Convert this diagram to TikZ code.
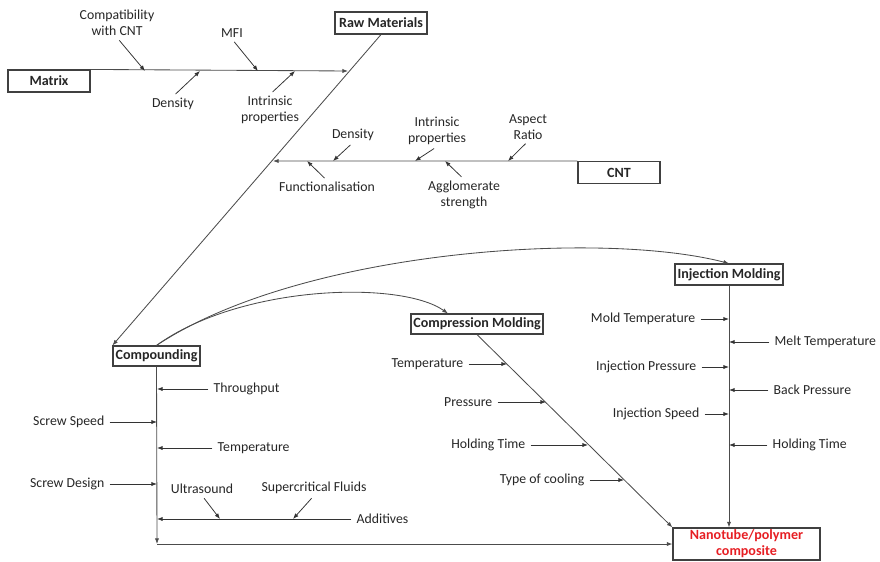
\documentclass[tikz,border=0pt]{standalone}
\usepackage{fontspec}
\setmainfont{Carlito}
\usetikzlibrary{arrows.meta,calc}
\definecolor{NanoRed}{RGB}{230,30,35}
\tikzset{%
	% Style of the main boxes
	Box/.style={draw=black!75,line width=0.8pt,inner sep=0,font=\fontsize{10}{12}\selectfont\bfseries,text=black!85},
	% Style of the cause labels
	Label/.style={font=\fontsize{9.8}{11.5}\selectfont,align=center,inner sep=1pt,text=black!85},
	% Style of the main lines
	Spine/.style={line width=0.6pt,draw=black!70,-{Latex[length=4pt,width=3pt]}},
	% Style of the small cause arrows
	Bone/.style={line width=0.55pt,draw=black!80,shorten <=2.5pt,-{Latex[length=4pt,width=3pt]}},
}

\begin{document}
\begin{tikzpicture}[x=0.025cm,y=-0.025cm] % STYLES
\useasboundingbox (0,0) rectangle (880,561);

%~~~~~~~~~~~~~~~~~~~~~~~~~~~~~~~~~~~~~~~~~~~~~~~~~~
% Set Boxes
%~~~~~~~~~~~~~~~~~~~~~~~~~~~~~~~~~~~~~~~~~~~~~~~~~~
\node[Box,minimum width=2.05cm,minimum height=0.55cm] (Matrix) at (49, 81) {Matrix};
\node[Box,minimum width=2.3cm,minimum height=0.55cm] (Raw) at (381, 23) {Raw Materials};
\node[Box,minimum width=2.05cm,minimum height=0.55cm] (CNT) at (619, 172.5) {CNT};
\node[Box,minimum width=2.175cm,minimum height=0.5cm] (Comp) at (156.5, 356) {Compounding};
\node[Box,minimum width=3.3cm,minimum height=0.5cm] (CompM) at (477, 324) {Compression Molding};
\node[Box,minimum width=2.7cm,minimum height=0.525cm] (InjM) at (729, 274.5) {Injection Molding};
\node[Box,minimum width=3.675cm,minimum height=0.8cm,align=center,text=NanoRed,font=\fontsize{10}{11.5}\selectfont\bfseries] (Nano) at (746.5, 544) {Nanotube/polymer\\composite};

%~~~~~~~~~~~~~~~~~~~~~~~~~~~~~~~~~~~~~~~~~~~~~~~~~~
% Set Main Lines
%~~~~~~~~~~~~~~~~~~~~~~~~~~~~~~~~~~~~~~~~~~~~~~~~~~
\coordinate (JM) at (348, 71);
\coordinate (JC) at (273, 161);
\coordinate (Corner) at (157, 544);

\draw[Spine] (Matrix.north east) -- (JM);
\draw[Spine] (Raw.south) -- (Comp.north west);
\draw[Spine] (CNT.north west) -- (JC);
\draw[Spine] (Comp.south) -- (Corner);
\draw[Spine] (Corner) -- (Nano.west);
\draw[Spine] (CompM.south) -- (Nano.north west);
\draw[Spine] (InjM.south) -- (InjM.south |- Nano.north);
\draw[Spine] (Comp.north) .. controls (240, 285) and (400, 280) .. (CompM.160);
\draw[Spine] (Comp.north) .. controls (300, 250) and (600, 230) .. (InjM.north);

%~~~~~~~~~~~~~~~~~~~~~~~~~~~~~~~~~~~~~~~~~~~~~~~~~~
% Matrix causes
%~~~~~~~~~~~~~~~~~~~~~~~~~~~~~~~~~~~~~~~~~~~~~~~~~~
\node[Label] (MCompat) at (117, 23) {Compatibility\\with CNT};
\node[Label] (MMFI) at (232, 33) {MFI};
\node[Label] (MDens) at (173, 104) {Density};
\node[Label] (MIntr) at (270, 110) {Intrinsic\\properties};
\draw[Bone] (MCompat.south) -- (145, 71);
\draw[Bone] (MMFI.south) -- (258, 71);
\draw[Bone] (MDens.north) -- (200, 71);
\draw[Bone] (MIntr.north) -- (295, 71);

%~~~~~~~~~~~~~~~~~~~~~~~~~~~~~~~~~~~~~~~~~~~~~~~~~~
% CNT causes
%~~~~~~~~~~~~~~~~~~~~~~~~~~~~~~~~~~~~~~~~~~~~~~~~~~
\node[Label] (CDens) at (353, 135) {Density};
\node[Label] (CIntr) at (437, 131) {Intrinsic\\properties};
\node[Label] (CAsp) at (528, 127) {Aspect\\Ratio};
\node[Label] (CFunc) at (327, 187) {Functionalisation};
\node[Label] (CAggl) at (464, 195) {Agglomerate\\strength};
\draw[Bone] (CDens.south) -- (333, 161);
\draw[Bone] (CIntr.south) -- (415, 161);
\draw[Bone] (CAsp.south) -- (508, 161);
\draw[Bone] (CFunc.north) -- (307, 161);
\draw[Bone] (CAggl.north) -- (445, 161);

%~~~~~~~~~~~~~~~~~~~~~~~~~~~~~~~~~~~~~~~~~~~~~~~~~~
% Compounding causes
%~~~~~~~~~~~~~~~~~~~~~~~~~~~~~~~~~~~~~~~~~~~~~~~~~~
\node[Label,anchor=west] (KThrough) at (212, 389) {Throughput};
\node[Label,anchor=east] (KSpeed) at (106, 422) {Screw Speed};
\node[Label,anchor=west] (KTemp) at (216, 448) {Temperature};
\node[Label,anchor=east] (KDesign) at (106, 484) {Screw Design};
\node[Label,anchor=west] (KAdd) at (355, 519) {Additives};
\node[Label] (KUltra) at (202, 489) {Ultrasound};
\node[Label] (KSuper) at (314, 488) {Supercritical Fluids};
\draw[Bone] (KThrough) -- (157, 389);
\draw[Bone] (KSpeed) -- (157, 422);
\draw[Bone] (KTemp) -- (157, 448);
\draw[Bone] (KDesign) -- (157, 484);
\draw[Bone] (KAdd) -- (157, 519);
\draw[Bone] (KUltra.south) -- (220, 519);
\draw[Bone] (KSuper.south) -- (293, 519);

%~~~~~~~~~~~~~~~~~~~~~~~~~~~~~~~~~~~~~~~~~~~~~~~~~~
% Compression Molding causes
%~~~~~~~~~~~~~~~~~~~~~~~~~~~~~~~~~~~~~~~~~~~~~~~~~~
\node[Label,anchor=east] (PTemp) at (465, 364) {Temperature};
\node[Label,anchor=east] (PPress) at (494, 402) {Pressure};
\node[Label,anchor=east] (PHold) at (527, 445) {Holding Time};
\node[Label,anchor=east] (PCool) at (586, 480) {Type of cooling};
\draw[Bone] (PTemp) -- (507, 364);
\draw[Bone] (PPress) -- (546, 402);
\draw[Bone] (PHold) -- (588, 445);
\draw[Bone] (PCool) -- (624, 480);

%~~~~~~~~~~~~~~~~~~~~~~~~~~~~~~~~~~~~~~~~~~~~~~~~~~
% Injection Molding causes
%~~~~~~~~~~~~~~~~~~~~~~~~~~~~~~~~~~~~~~~~~~~~~~~~~~
\node[Label,anchor=east] (IMold) at (697, 319) {Mold Temperature};
\node[Label,anchor=west] (IMelt) at (773, 342) {Melt Temperature};
\node[Label,anchor=east] (IPress) at (698, 367) {Injection Pressure};
\node[Label,anchor=west] (IBack) at (772, 390) {Back Pressure};
\node[Label,anchor=east] (ISpeed) at (701, 414) {Injection Speed};
\node[Label,anchor=west] (IHold) at (771, 445) {Holding Time};
\draw[Bone] (IMold) -- (729, 319);
\draw[Bone] (IMelt) -- (729, 342);
\draw[Bone] (IPress) -- (729, 367);
\draw[Bone] (IBack) -- (729, 390);
\draw[Bone] (ISpeed) -- (729, 414);
\draw[Bone] (IHold) -- (729, 445);

\end{tikzpicture}
\end{document}
